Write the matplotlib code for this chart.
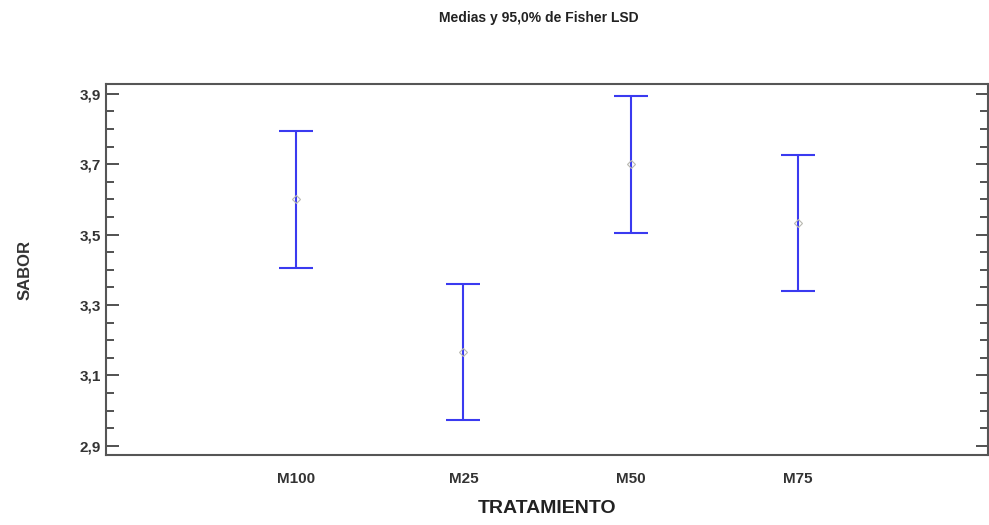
import matplotlib
matplotlib.use("Agg")
from matplotlib import pyplot as plt
from matplotlib.ticker import FixedLocator, FuncFormatter

plt.rcParams['font.family'] = ['Liberation Sans', 'DejaVu Sans']

tratamientos = ["M100", "M25", "M50", "M75"]
medias = [3.600, 3.167, 3.700, 3.533]
lsd_mitad = [0.194, 0.194, 0.194, 0.194]
y_ticks = [2.9, 3.1, 3.3, 3.5, 3.7, 3.9]

fig = plt.figure(figsize=(9.89, 5.25), dpi=100)
ax = fig.add_axes([0.1072, 0.1333, 0.8918, 0.7067])

x = list(range(len(tratamientos)))
ax.errorbar(x, medias, yerr=lsd_mitad, fmt='none', ecolor='#3a3af0',
            elinewidth=1.5, capsize=12, capthick=1.5)
ax.plot(x, medias, linestyle='none', marker='D', markersize=4,
        markerfacecolor='none', markeredgecolor='#b8b8b0', markeredgewidth=0.8)

ax.set_xlim(-1.14, 4.14)
ax.set_ylim(2.874, 3.928)
ax.set_xticks(x)
ax.set_xticklabels(tratamientos, fontsize=11, fontweight='bold', color='#333333')
ax.tick_params(axis='x', length=0, pad=12)

ax.yaxis.set_major_locator(FixedLocator(y_ticks))
ax.yaxis.set_minor_locator(FixedLocator([2.9 + 0.05 * i for i in range(21)]))
ax.yaxis.set_major_formatter(FuncFormatter(lambda v, p: ("%.1f" % v).replace('.', ',')))
ax.tick_params(axis='y', which='both', direction='in', left=True, right=True,
               labelsize=11, color='#333333', labelcolor='#333333')
ax.tick_params(axis='y', which='major', length=9, width=1.2)
ax.tick_params(axis='y', which='minor', length=6, width=1.2)
for lbl in ax.get_yticklabels():
    lbl.set_fontweight('bold')

for s in ax.spines.values():
    s.set_color('#555555')
    s.set_linewidth(1.5)

ax.set_xlabel("TRATAMIENTO", fontsize=14, fontweight='bold', color='#222222', labelpad=10)
ax.set_ylabel("SABOR", fontsize=12, fontweight='bold', color='#333333', labelpad=34)
fig.text(0.545, 0.965, "Medias y 95,0% de Fisher LSD", ha='center', va='center',
         fontsize=10, fontweight='bold', color='#222222')

plt.savefig('out.png', dpi=100)
